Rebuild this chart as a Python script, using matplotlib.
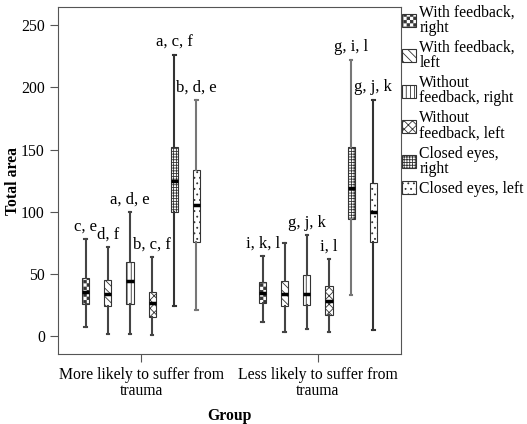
import warnings
import matplotlib
matplotlib.use('Agg')
import matplotlib.pyplot as plt
import matplotlib.hatch as mhatch
from matplotlib.patches import Patch
from matplotlib.path import Path

warnings.filterwarnings('ignore')
plt.rcParams['font.family'] = ['Liberation Serif', 'DejaVu Serif']
plt.rcParams['hatch.linewidth'] = 0.6

groups = ['More likely to suffer from\ntrauma', 'Less likely to suffer from\ntrauma']
conditions = ['With feedback,\nright', 'With feedback,\nleft', 'Without\nfeedback, right',
              'Without\nfeedback, left', 'Closed eyes,\nright', 'Closed eyes, left']

# five-number summaries (one entry per condition)
more_low = [7.5, 1.3, 1.3, 0.5, 24.1, 20.9]
more_q1 = [25.4, 24.1, 25.7, 15.5, 99.9, 75.8]
more_med = [35.6, 33.5, 44.5, 26.3, 124.6, 105.6]
more_q3 = [46.9, 45.0, 59.8, 35.6, 151.7, 133.4]
more_high = [77.7, 71.8, 99.4, 63.8, 225.9, 189.7]

less_low = [11.5, 2.9, 5.4, 2.9, 32.7, 4.6]
less_q1 = [26.8, 24.1, 24.7, 16.9, 93.8, 75.3]
less_med = [34.3, 33.5, 33.5, 28.4, 119.2, 99.9]
less_q3 = [43.1, 44.5, 49.3, 40.2, 152.2, 123.3]
less_high = [64.6, 74.5, 80.9, 61.9, 222.4, 190.2]

more_letters = ['c, e', 'd, f', 'a, d, e', 'b, c, f', 'a, c, f', 'b, d, e']
less_letters = ['i, k, l', '', 'g, j, k', 'i, l', 'g, i, l', 'g, j, k']


# checkerboard fill, matplotlib has no such hatch so add one ('c')
class CheckerHatch(mhatch.HatchPatternBase):
    def __init__(self, hatch, density):
        self.n = hatch.count('c') * density
        self.cells = [(i, j) for i in range(self.n) for j in range(self.n) if (i + j) % 2 == 0]
        self.num_vertices = len(self.cells) * 5

    def set_vertices_and_codes(self, vertices, codes):
        step = 1.0 / self.n
        d = 0.004
        for k, (i, j) in enumerate(self.cells):
            x0, y0 = i * step + d, j * step + d
            x1, y1 = (i + 1) * step - d, (j + 1) * step - d
            vertices[5 * k:5 * k + 5] = [(x0, y0), (x1, y0), (x1, y1), (x0, y1), (x0, y0)]
            codes[5 * k] = Path.MOVETO
            codes[5 * k + 1:5 * k + 4] = Path.LINETO
            codes[5 * k + 4] = Path.CLOSEPOLY


mhatch._hatch_types.append(CheckerHatch)

hatches = ['ccccc', '\\\\\\\\', '||||', 'xxxx', '++++++', '...']
whisker_cols = [['#444444'] * 4 + ['#333333', '#777777'],
                ['#444444'] * 4 + ['#777777', '#333333']]

fig = plt.figure(figsize=(5.27, 4.24), dpi=100)
ax = fig.add_axes([0.110, 0.165, 0.651, 0.818])

summaries = [(more_low, more_q1, more_med, more_q3, more_high, more_letters),
             (less_low, less_q1, less_med, less_q3, less_high, less_letters)]

for g, (lo, q1, med, q3, hi, letters) in enumerate(summaries):
    stats = []
    for i in range(len(conditions)):
        stats.append(dict(whislo=lo[i], q1=q1[i], med=med[i], q3=q3[i], whishi=hi[i], fliers=[]))
    pos = [g + (i - 2.5) * 0.125 for i in range(len(conditions))]
    bp = ax.bxp(stats, positions=pos, widths=0.04, capwidths=0.015, patch_artist=True,
                showfliers=False, manage_ticks=False,
                boxprops=dict(facecolor='white', edgecolor='#333333', linewidth=0.8),
                medianprops=dict(color='black', linewidth=2.5, solid_capstyle='butt'),
                whiskerprops=dict(linewidth=1.5),
                capprops=dict(linewidth=1.5))
    for i, box in enumerate(bp['boxes']):
        box.set_hatch(hatches[i])
        for line in bp['whiskers'][2 * i:2 * i + 2] + bp['caps'][2 * i:2 * i + 2]:
            line.set_color(whisker_cols[g][i])
        ax.annotate(letters[i], (pos[i], hi[i]), xytext=(0, 6), textcoords='offset points',
                    ha='center', va='baseline', fontsize=12)

ax.set_xlim(-0.47, 1.47)
ax.set_ylim(-14.5, 264.5)
ax.set_xticks([0, 1])
ax.set_xticklabels(groups, fontsize=11.3, linespacing=0.95)
ax.set_yticks(range(0, 251, 50))
ax.tick_params(axis='y', labelsize=11.3, length=6, color='#555555')
ax.tick_params(axis='x', length=6, color='#555555')
for sp in ax.spines.values():
    sp.set_color('#555555')
ax.set_xlabel('Group', fontsize=11.3, fontweight='bold', labelpad=7)
ax.set_ylabel('Total area', fontsize=11.3, fontweight='bold', labelpad=0)

handles = [Patch(facecolor='white', edgecolor='#333333', linewidth=0.8, hatch=h) for h in hatches]
leg = fig.legend(handles, conditions, loc='upper left', bbox_to_anchor=(0.763, 0.99),
                 frameon=False, fontsize=11.3, handlelength=0.9, handleheight=0.9,
                 handletextpad=0.2, labelspacing=0.25, borderpad=0, borderaxespad=0)
for t in leg.get_texts():
    t.set_linespacing(0.95)

fig.savefig('out.png', dpi=100)
